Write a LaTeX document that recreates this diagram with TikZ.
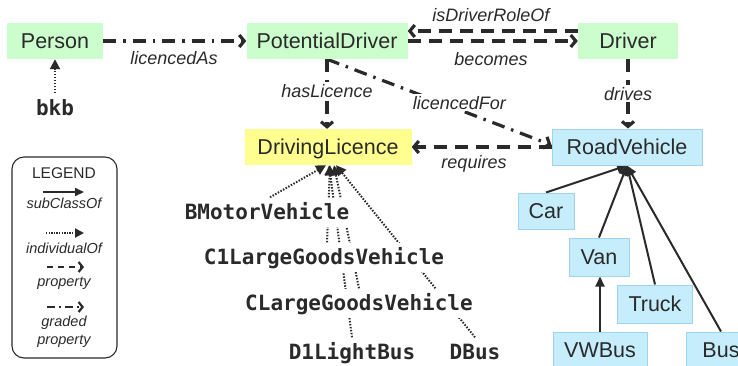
\documentclass[tikz,border=0pt]{standalone}
\usepackage{fontspec}
\setmainfont{Liberation Sans}
\setmonofont{DejaVu Sans Mono}
\usetikzlibrary{arrows.meta,backgrounds,calc}
\definecolor{grn}{HTML}{CCFDCC}
\definecolor{yel}{HTML}{FFFF8F}
\definecolor{blu}{HTML}{C5EDFC}
\definecolor{bluline}{HTML}{A2D3EE}
\definecolor{txt}{HTML}{2A2A2A}
\tikzset{
  cls/.style={rectangle, minimum height=36pt, inner sep=0pt, text=txt,
    font=\fontsize{21.5}{24}\selectfont, text height=15.5pt, text depth=0pt},
  grnbox/.style={cls, fill=grn},
  yelbox/.style={cls, fill=yel},
  blubox/.style={cls, fill=blu, draw=bluline, line width=1pt},
  ind/.style={font=\fontsize{21}{24}\selectfont\ttfamily\bfseries, fill=white,
    inner xsep=8pt, inner ysep=7pt, text=txt, text height=15pt, text depth=0pt},
  lbl/.style={font=\fontsize{18}{20}\selectfont\itshape, text=txt, inner sep=2pt,
    text height=13pt, text depth=0pt},
  leglbl/.style={font=\fontsize{14.5}{16}\selectfont\itshape, text=txt, inner sep=0pt},
  prop/.style={draw=txt, line width=3.2pt, dash pattern=on 13pt off 8pt,
    -{Straight Barb[length=5pt,width=12pt]}},
  gprop/.style={prop, dash pattern=on 13pt off 7pt on 2.5pt off 7pt},
  indv/.style={draw=txt, line width=2pt, dash pattern=on 1.5pt off 1.5pt,
    -{Triangle[length=10pt,width=10pt]}},
  sub/.style={draw=txt, line width=2pt, -{Triangle[length=10pt,width=9pt]}},
  lsub/.style={draw=txt, line width=2pt, -{Triangle[length=9pt,width=8pt]}},
  lindv/.style={draw=txt, line width=2pt, dash pattern=on 1.3pt off 1.3pt,
    -{Triangle[length=9pt,width=9pt]}},
  lprop/.style={draw=txt, line width=2.2pt, dash pattern=on 6pt off 5pt,
    -{Straight Barb[length=4pt,width=10pt]}},
  lgprop/.style={lprop, dash pattern=on 8pt off 4pt on 2pt off 4pt},
}
\begin{document}
\begin{tikzpicture}[x=1pt,y=-1pt]
\useasboundingbox (0,0) rectangle (738,365);

% classes
\node[grnbox, minimum width=96pt] (person) at (55,41) {Person};
\node[grnbox, minimum width=161pt] (pd) at (327,41) {PotentialDriver};
\node[grnbox, minimum width=100pt] (driver) at (628,41) {Driver};
\node[yelbox, minimum width=167pt] (dl) at (328,147) {DrivingLicence};
\node[blubox, minimum width=150pt] (rv) at (627,147) {RoadVehicle};
\node[blubox, minimum width=56pt] (car) at (546,211) {Car};
\node[blubox, minimum width=60pt, minimum height=38pt] (van) at (599,257) {Van};
\node[blubox, minimum width=75pt, minimum height=38pt] (truck) at (655,304) {Truck};
\node[blubox, minimum width=94pt] (vwbus) at (600,350) {VWBus};
\node[blubox, minimum width=70pt] (bus) at (721,350) {Bus};

% individuals
\node[ind] (bkb) at (55,108) {bkb};
\node[ind] (bmv) at (267,212) {BMotorVehicle};
\node[ind] (c1) at (324,257) {C1LargeGoodsVehicle};
\node[ind] (clg) at (359,303) {CLargeGoodsVehicle};
\node[ind] (d1) at (352,352) {D1LightBus};
\node[ind] (dbus) at (475,352) {DBus};

% edge labels (off-line)
\node[lbl] (lAs) at (174,58) {licencedAs};
\node[lbl] (lRole) at (491,15) {isDriverRoleOf};
\node[lbl] (lBec) at (491,59) {becomes};
\node[lbl] (lReq) at (474,162) {requires};

% legend
\node[draw=txt, line width=1.1pt, rounded corners=12pt, minimum width=105pt,
  minimum height=201pt, inner sep=0pt] (leg) at (64.5,257.5) {};
\node[font=\fontsize{15.5}{17}\selectfont, text=txt, inner sep=0pt] (legt) at (64,173) {LEGEND};
\coordinate (ls1) at (43,192); \coordinate (le1) at (84,192);
\node[leglbl] (lg1) at (64,203) {subClassOf};
\coordinate (ls2) at (46,233); \coordinate (le2) at (84,233);
\node[leglbl] (lg2) at (64,248) {individualOf};
\coordinate (ls3) at (47,267); \coordinate (le3) at (84,267);
\node[leglbl] (lg3) at (64,283) {property};
\coordinate (ls4) at (47,307); \coordinate (le4) at (84,307);
\node[leglbl] (lg4) at (64,323) {graded};
\node[leglbl] (lg5) at (64,341) {property};
\draw[lsub] (ls1) -- (le1);
\draw[lindv] (ls2) -- (le2);
\draw[lprop] (ls3) -- (le3);
\draw[lgprop] (ls4) -- (le4);

\begin{pgfonlayer}{background}
  % properties
  \draw[gprop] (person) -- (pd);
  \draw[prop] (pd.east) -- (driver.west);
  \draw[prop] ([yshift=10pt]driver.west) -- ([yshift=10pt]pd.east);
  \draw[prop] (driver.south) -- node[lbl, fill=white] {drives} (driver.south |- rv.north);
  \draw[prop] (pd.south) -- node[lbl, fill=white, pos=0.45] {hasLicence} (pd.south |- dl.north);
  \draw[gprop] (pd.south) -- node[lbl, fill=white, pos=0.59, yshift=7pt] {licencedFor} ([yshift=2pt]rv.west);
  \draw[prop] (rv.west) -- (dl.east);
  % individualOf
  \draw[indv] (bkb) -- (person);
  \draw[indv] ([xshift=3pt]bmv.north) -- ([xshift=-2pt]dl.south);
  \draw[indv] ([xshift=3pt]c1.north) -- ([xshift=2pt]dl.south);
  \draw[indv] (clg.north) -- ([xshift=6pt]dl.south);
  \draw[indv] (d1.north) -- ([xshift=1pt]dl.south);
  \draw[indv] (dbus.north) -- ([xshift=8pt]dl.south);
  % subClassOf
  \draw[sub] (car.north) -- (rv.south);
  \draw[sub] (van.north) -- (rv.south);
  \draw[sub] (truck.north) -- (rv.south);
  \draw[sub] (bus.north) -- (rv.south);
  \draw[sub] (vwbus.north) -- (vwbus.north |- van.south);
\end{pgfonlayer}
\end{tikzpicture}
\end{document}
